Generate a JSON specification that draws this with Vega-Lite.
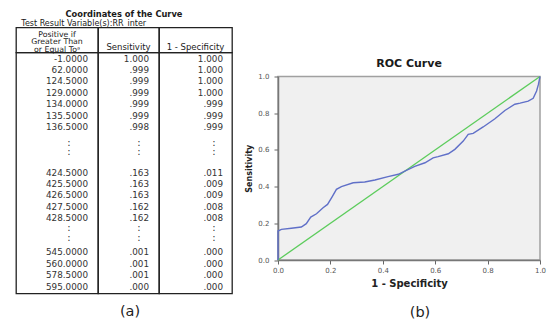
{
  "$schema": "https://vega.github.io/schema/vega-lite/v6.json",
  "background": "white",
  "padding": {"left": 15, "top": 9.5, "right": 4, "bottom": 2},
  "config": {"font": "DejaVu Sans", "view": {"stroke": null}, "title": {"color": "#1a1a1a"}},
  "datasets": {
    "tbl": [
      {"row": 0, "thr": "-1.0000", "sens": "1.000", "spec": "1.000"},
      {"row": 1, "thr": "62.0000", "sens": ".999", "spec": "1.000"},
      {"row": 2, "thr": "124.5000", "sens": ".999", "spec": "1.000"},
      {"row": 3, "thr": "129.0000", "sens": ".999", "spec": "1.000"},
      {"row": 4, "thr": "134.0000", "sens": ".999", "spec": ".999"},
      {"row": 5, "thr": "135.5000", "sens": ".999", "spec": ".999"},
      {"row": 6, "thr": "136.5000", "sens": ".998", "spec": ".999"},
      {"row": 10, "thr": "424.5000", "sens": ".163", "spec": ".011"},
      {"row": 11, "thr": "425.5000", "sens": ".163", "spec": ".009"},
      {"row": 12, "thr": "426.5000", "sens": ".163", "spec": ".009"},
      {"row": 13, "thr": "427.5000", "sens": ".162", "spec": ".008"},
      {"row": 14, "thr": "428.5000", "sens": ".162", "spec": ".008"},
      {"row": 17, "thr": "545.0000", "sens": ".001", "spec": ".000"},
      {"row": 18, "thr": "560.0000", "sens": ".001", "spec": ".000"},
      {"row": 19, "thr": "578.5000", "sens": ".001", "spec": ".000"},
      {"row": 20, "thr": "595.0000", "sens": ".000", "spec": ".000"}
    ],
    "gaps": [{"row": 7.4, "dots": ":\n:"}, {"row": 14.9, "dots": ":\n:"}],
    "ref": [{"fpr": 0, "tpr": 0}, {"fpr": 1, "tpr": 1}],
    "roc": [
      {"fpr": 0, "tpr": 0}, {"fpr": 0, "tpr": 0.158}, {"fpr": 0.013, "tpr": 0.167}, {"fpr": 0.051, "tpr": 0.173},
      {"fpr": 0.089, "tpr": 0.18}, {"fpr": 0.108, "tpr": 0.198}, {"fpr": 0.125, "tpr": 0.234}, {"fpr": 0.147, "tpr": 0.252},
      {"fpr": 0.172, "tpr": 0.285}, {"fpr": 0.189, "tpr": 0.303}, {"fpr": 0.206, "tpr": 0.343}, {"fpr": 0.223, "tpr": 0.385},
      {"fpr": 0.242, "tpr": 0.4}, {"fpr": 0.287, "tpr": 0.421}, {"fpr": 0.331, "tpr": 0.425}, {"fpr": 0.37, "tpr": 0.436},
      {"fpr": 0.42, "tpr": 0.454}, {"fpr": 0.459, "tpr": 0.467}, {"fpr": 0.49, "tpr": 0.488}, {"fpr": 0.522, "tpr": 0.51},
      {"fpr": 0.561, "tpr": 0.53}, {"fpr": 0.592, "tpr": 0.557}, {"fpr": 0.611, "tpr": 0.563}, {"fpr": 0.65, "tpr": 0.579},
      {"fpr": 0.675, "tpr": 0.603}, {"fpr": 0.707, "tpr": 0.648}, {"fpr": 0.726, "tpr": 0.685}, {"fpr": 0.745, "tpr": 0.69},
      {"fpr": 0.783, "tpr": 0.725}, {"fpr": 0.828, "tpr": 0.77}, {"fpr": 0.866, "tpr": 0.815}, {"fpr": 0.904, "tpr": 0.849},
      {"fpr": 0.924, "tpr": 0.855}, {"fpr": 0.955, "tpr": 0.866}, {"fpr": 0.974, "tpr": 0.881}, {"fpr": 0.987, "tpr": 0.921},
      {"fpr": 0.994, "tpr": 0.957}, {"fpr": 1, "tpr": 1}
    ]
  },
  "spacing": 12,
  "hconcat": [
    {
      "title": {"text": "Coordinates of the Curve", "anchor": "middle", "fontSize": 8.3, "fontWeight": "bold", "offset": 2.5},
      "spacing": 0,
      "vconcat": [
        {
          "title": {"text": "Test Result Variable(s):RR_inter", "anchor": "start", "fontSize": 8, "fontWeight": "normal", "offset": -1.5, "dx": 6},
          "bounds": "flush",
          "align": "each",
          "columns": 3,
          "spacing": 0,
          "concat": [
            {
              "width": 82, "height": 25,
              "view": {"stroke": "#222", "strokeWidth": 1.3},
              "data": {"values": [{"label": "Positive if\nGreater Than\nor Equal Toᵃ"}]},
              "mark": {"type": "text", "baseline": "bottom", "lineBreak": "\n", "lineHeight": 7.5, "fontSize": 7.8, "dy": -14, "fill": "#222"},
              "encoding": {"text": {"field": "label"}, "y": {"value": "height"}}
            },
            {
              "width": 61, "height": 25,
              "view": {"stroke": "#222", "strokeWidth": 1.3},
              "data": {"values": [{"label": "Sensitivity"}]},
              "mark": {"type": "text", "baseline": "bottom", "fontSize": 8.5, "dy": -1, "fill": "#222"},
              "encoding": {"text": {"field": "label"}, "y": {"value": "height"}}
            },
            {
              "width": 73, "height": 25,
              "view": {"stroke": "#222", "strokeWidth": 1.3},
              "data": {"values": [{"label": "1 - Specificity"}]},
              "mark": {"type": "text", "baseline": "bottom", "fontSize": 8.5, "dy": -1, "fill": "#222"},
              "encoding": {"text": {"field": "label"}, "y": {"value": "height"}}
            },
            {
              "width": 82, "height": 241,
              "view": {"stroke": "#222", "strokeWidth": 1.3},
              "layer": [
                {
                  "data": {"name": "tbl"},
                  "mark": {"type": "text", "align": "right", "baseline": "middle", "dx": -10, "fontSize": 8.8, "fill": "#333"},
                  "encoding": {
                    "text": {"field": "thr"},
                    "x": {"value": "width"},
                    "y": {"field": "row", "type": "quantitative", "scale": {"domain": [-0.53, 20.61], "reverse": true, "nice": false, "zero": false}, "axis": null}
                  }
                },
                {
                  "data": {"name": "gaps"},
                  "mark": {"type": "text", "align": "center", "baseline": "middle", "dx": -29, "fontSize": 10, "lineBreak": "\n", "lineHeight": 9.5, "fill": "#333"},
                  "encoding": {
                    "text": {"field": "dots"},
                    "x": {"value": "width"},
                    "y": {"field": "row", "type": "quantitative", "scale": {"domain": [-0.53, 20.61], "reverse": true, "nice": false, "zero": false}, "axis": null}
                  }
                }
              ]
            },
            {
              "width": 61, "height": 241,
              "view": {"stroke": "#222", "strokeWidth": 1.3},
              "layer": [
                {
                  "data": {"name": "tbl"},
                  "mark": {"type": "text", "align": "right", "baseline": "middle", "dx": -10, "fontSize": 8.8, "fill": "#333"},
                  "encoding": {
                    "text": {"field": "sens"},
                    "x": {"value": "width"},
                    "y": {"field": "row", "type": "quantitative", "scale": {"domain": [-0.53, 20.61], "reverse": true, "nice": false, "zero": false}, "axis": null}
                  }
                },
                {
                  "data": {"name": "gaps"},
                  "mark": {"type": "text", "align": "center", "baseline": "middle", "dx": -20, "fontSize": 10, "lineBreak": "\n", "lineHeight": 9.5, "fill": "#333"},
                  "encoding": {
                    "text": {"field": "dots"},
                    "x": {"value": "width"},
                    "y": {"field": "row", "type": "quantitative", "scale": {"domain": [-0.53, 20.61], "reverse": true, "nice": false, "zero": false}, "axis": null}
                  }
                }
              ]
            },
            {
              "width": 73, "height": 241,
              "view": {"stroke": "#222", "strokeWidth": 1.3},
              "layer": [
                {
                  "data": {"name": "tbl"},
                  "mark": {"type": "text", "align": "right", "baseline": "middle", "dx": -9, "fontSize": 8.8, "fill": "#333"},
                  "encoding": {
                    "text": {"field": "spec"},
                    "x": {"value": "width"},
                    "y": {"field": "row", "type": "quantitative", "scale": {"domain": [-0.53, 20.61], "reverse": true, "nice": false, "zero": false}, "axis": null}
                  }
                },
                {
                  "data": {"name": "gaps"},
                  "mark": {"type": "text", "align": "center", "baseline": "middle", "dx": -18, "fontSize": 10, "lineBreak": "\n", "lineHeight": 9.5, "fill": "#333"},
                  "encoding": {
                    "text": {"field": "dots"},
                    "x": {"value": "width"},
                    "y": {"field": "row", "type": "quantitative", "scale": {"domain": [-0.53, 20.61], "reverse": true, "nice": false, "zero": false}, "axis": null}
                  }
                }
              ]
            }
          ]
        },
        {
          "width": 216, "height": 24,
          "data": {"values": [{"cap": "(a)"}]},
          "mark": {"type": "text", "baseline": "bottom", "fontSize": 14.5, "dx": 6, "fill": "#222"},
          "encoding": {"text": {"field": "cap"}, "y": {"value": "height"}}
        }
      ]
    },
    {
      "bounds": "flush",
      "spacing": 0,
      "vconcat": [
        {
          "width": 262, "height": 48.5,
          "data": {"values": [{"t": ""}]},
          "mark": {"type": "text"},
          "encoding": {"text": {"field": "t"}}
        },
        {
          "width": 262, "height": 183.5,
          "title": {"text": "ROC Curve", "fontSize": 11, "fontWeight": "bold", "offset": 3.5, "anchor": "middle"},
          "view": {"fill": "#f0f0f0", "stroke": "#a0a0a0", "strokeWidth": 1.5},
          "encoding": {
            "x": {
              "field": "fpr", "type": "quantitative", "scale": {"domain": [0, 1], "nice": false},
              "axis": {"title": "1 - Specificity", "titleFontSize": 10, "titleFontWeight": "bold", "titleColor": "#222", "titlePadding": 5,
                "values": [0, 0.2, 0.4, 0.6, 0.8, 1], "format": ".1f", "labelFontSize": 7, "labelColor": "#555", "labelPadding": 2,
                "tickSize": 4, "tickColor": "#666", "domainColor": "#777", "domainWidth": 1.5, "grid": false, "labelFlush": false}
            },
            "y": {
              "field": "tpr", "type": "quantitative", "scale": {"domain": [0, 1], "nice": false},
              "axis": {"title": "Sensitivity", "titleFontSize": 8, "titleFontWeight": "bold", "titleColor": "#222", "titlePadding": 4,
                "values": [0, 0.2, 0.4, 0.6, 0.8, 1], "format": ".1f", "labelFontSize": 7, "labelColor": "#555", "labelPadding": 5,
                "tickSize": 4, "tickColor": "#666", "domainColor": "#777", "domainWidth": 1.5, "grid": false, "labelFlush": false}
            }
          },
          "layer": [
            {"data": {"name": "ref"}, "mark": {"type": "line", "color": "#5ccc5c", "strokeWidth": 1.3}},
            {"data": {"name": "roc"}, "mark": {"type": "line", "color": "#6070c8", "strokeWidth": 1.4},
             "encoding": {"order": {"field": "tpr", "type": "quantitative"}}}
          ]
        },
        {
          "width": 262, "height": 59,
          "data": {"values": [{"cap": "(b)"}]},
          "mark": {"type": "text", "baseline": "bottom", "fontSize": 14.5, "dx": 11, "fill": "#222"},
          "encoding": {"text": {"field": "cap"}, "y": {"value": "height"}}
        }
      ]
    }
  ]
}
